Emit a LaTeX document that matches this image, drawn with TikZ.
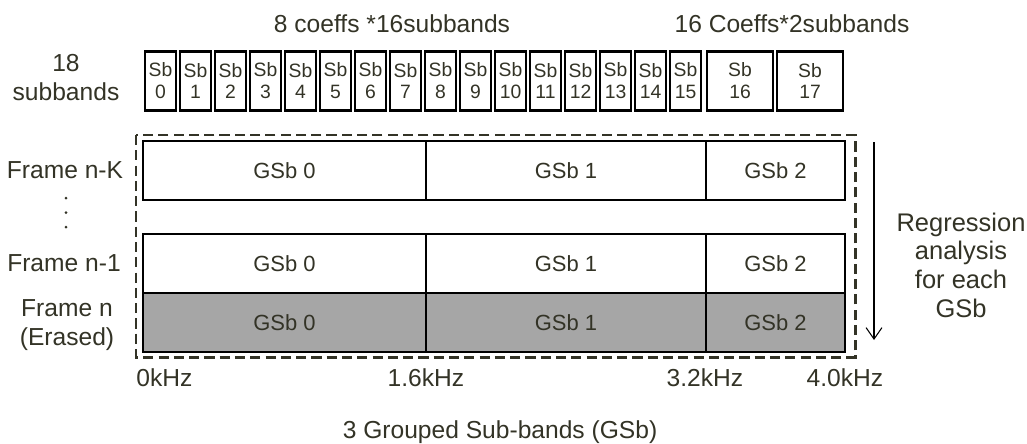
\documentclass[tikz,border=0pt]{standalone}
\usepackage{fontspec}
\setmainfont{Liberation Sans}
\usetikzlibrary{arrows.meta}
\definecolor{txt}{RGB}{51,51,38}
\definecolor{erased}{RGB}{166,166,166}

\begin{document}
\begin{tikzpicture}[x=0.02cm, y=-0.02cm,
  lbl/.style={text=txt, inner sep=0pt, align=center, font=\fontsize{14}{16.2}\selectfont},
  sbcell/.style={draw, line width=1.25pt, inner sep=0pt, align=center, text=txt,
    minimum height=1.18cm, font=\fontsize{11}{12.5}\selectfont},
  gsbcell/.style={draw, line width=1.6pt, inner sep=0pt, text=txt,
    minimum height=1.18cm, font=\fontsize{12.5}{14}\selectfont},
  grouping/.style={draw=txt, line width=1.7pt, dash pattern=on 5.8pt off 2.9pt}]
\useasboundingbox (0,0) rectangle (1027,443);

% subband strip: 16 narrow and 2 wide
\foreach \i in {0,...,15}
  \node[sbcell, minimum width=0.62cm] (sb\i) at (143+35*\i+17.5, 81) {Sb\\\i};
\foreach \i/\x in {16/740, 17/810}
  \node[sbcell, minimum width=1.32cm] (sb\i) at (\x, 81) {Sb\\\i};

\node[lbl] (coef8) at (392, 24) {8 coeffs *16subbands};
\node[lbl] (coef16) at (792, 24) {16 Coeffs*2subbands};
\node[lbl, font=\fontsize{14}{16.5}\selectfont] (nsb) at (66, 78) {18\\subbands};

% grouped sub-bands per frame
\foreach \r/\y/\c in {K/170.5/white, 1/263.5/white, n/322.5/erased}
  \foreach \g/\xa/\xb in {0/143/426, 1/426/706, 2/706/845}
    \node[gsbcell, fill=\c, minimum width={(\xb-\xa)*0.02cm}] (g\r\g) at ({(\xa+\xb)/2}, \y) {GSb \g};

\draw[grouping] (136,135) rectangle (855,357);

\node[lbl] (frk) at (65, 170) {Frame n-K};
\foreach \y in {198, 212.5, 227} \fill[txt] (66, \y) circle [radius=1.5];
\node[lbl] (fr1) at (64, 263.5) {Frame n-1};
\node[lbl, font=\fontsize{14}{16.5}\selectfont] (frn) at (67, 325) {Frame n\\(Erased)};

% frequency marks
\node[lbl, anchor=west] (f0) at (136, 378) {0kHz};
\foreach \f/\x in {1.6/426, 3.2/705, 4.0/845}
  \node[lbl] (f\x) at (\x, 378) {\f kHz};
\node[lbl] (gsbcap) at (500, 432) {3 Grouped Sub-bands (GSb)};

% regression
\coordinate (regtop) at (874, 142);
\coordinate (regbot) at (874, 340);
\draw[-{Straight Barb[length=6.5pt, width=9pt]}, line width=0.6pt] (regtop) -- (regbot);
\node[lbl, font=\fontsize{14.5}{16.3}\selectfont] (reg) at (961, 265) {Regression\\analysis\\for each\\GSb};
\end{tikzpicture}
\end{document}
